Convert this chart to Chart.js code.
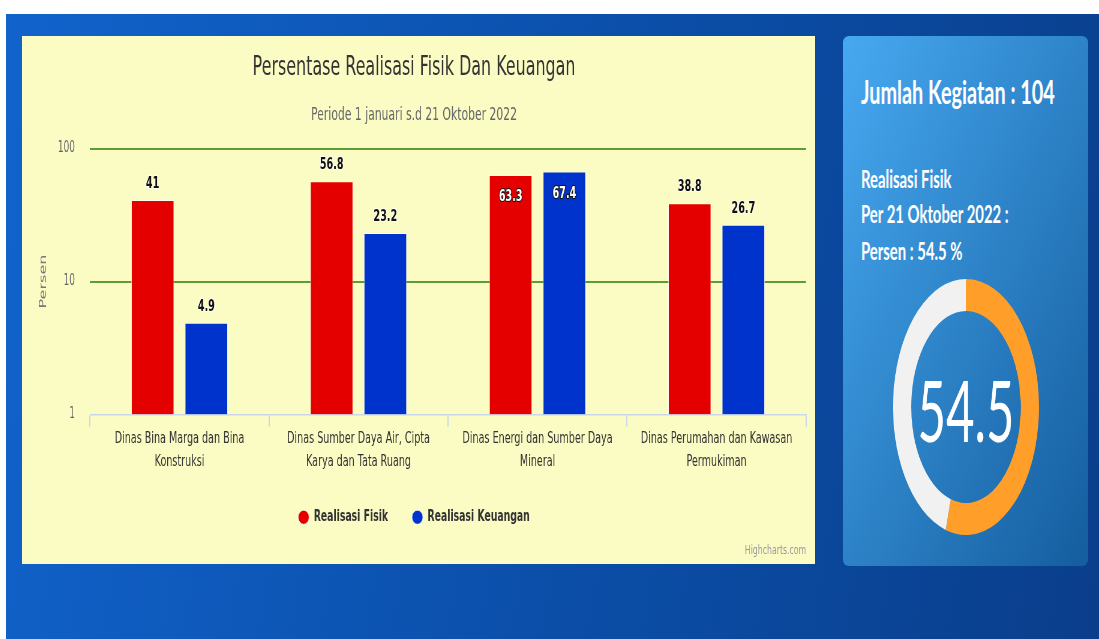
<!DOCTYPE html>
<html>
<head>
<meta charset="utf-8">
<script src="https://cdn.jsdelivr.net/npm/chart.js@4.4.1/dist/chart.umd.min.js"></script>
<style>
  html, body { margin: 0; padding: 0; width: 1099px; height: 639px; overflow: hidden; background: #fff; }
  .bg { position: absolute; left: 6px; top: 14px; right: 0; bottom: 0;
        background: linear-gradient(100deg, #1163cc 0%, #0b4ea8 55%, #0a3e8b 100%); }
  .panel { position: absolute; left: 22px; top: 36px; width: 793px; height: 528px; background: #fbfcc4; overflow: hidden; }
  .squeeze { position: absolute; left: 0; top: 0; transform-origin: 0 0; }
  .panel .squeeze { width: 1322px; height: 528px; transform: scaleX(0.6); }
  .credit { position: absolute; right: 15px; top: 506px; font: 13px 'DejaVu Sans', sans-serif; color: #999; }
  .card { position: absolute; left: 843px; top: 36px; width: 245px; height: 530px; border-radius: 6px;
          background: linear-gradient(to bottom right, #47a9f1, #145d9e); overflow: hidden; }
  .card .squeeze { width: 395px; height: 530px; transform: scaleX(0.62); }
  .line { position: absolute; left: 29px; color: #fff; font-family: Lato, sans-serif; font-weight: 700;
          line-height: 1; white-space: nowrap; }
  .ring { position: absolute; left: 50px; top: 243px; width: 256px; height: 256px;
          transform: scaleX(0.5703); transform-origin: 0 0; }
</style>
</head>
<body>
<div class="bg"></div>

<div class="panel">
  <div class="squeeze">
    <canvas id="barChart"></canvas>
    <span class="credit">Highcharts.com</span>
  </div>
</div>

<div class="card">
  <div class="squeeze">
    <div class="line" id="jumlah" style="top:40px; font-size:32px;"></div>
    <div class="line" style="top:131px; font-size:24px;">Realisasi Fisik</div>
    <div class="line" id="perTanggal" style="top:166px; font-size:24px;"></div>
    <div class="line" id="persen" style="top:203px; font-size:24px;"></div>
  </div>
  <div class="ring"><canvas id="ringChart"></canvas></div>
</div>

<script>
// data
const categories = [
    ["Dinas Bina Marga dan Bina", "Konstruksi"],
    ["Dinas Sumber Daya Air, Cipta", "Karya dan Tata Ruang"],
    ["Dinas Energi dan Sumber Daya", "Mineral"],
    ["Dinas Perumahan dan Kawasan", "Permukiman"]
];
const realisasiFisik = [41, 56.8, 63.3, 38.8];
const realisasiKeuangan = [4.9, 23.2, 67.4, 26.7];
const yTicks = [1, 10, 100];
const seriesNames = ["Realisasi Fisik", "Realisasi Keuangan"];
const jumlahKegiatan = 104;
const tanggal = "21 Oktober 2022";
const persenFisik = 54.5;

document.getElementById('jumlah').textContent = 'Jumlah Kegiatan : ' + jumlahKegiatan;
document.getElementById('perTanggal').textContent = 'Per ' + tanggal + ' :';
document.getElementById('persen').textContent = 'Persen : ' + persenFisik + ' %';

Chart.defaults.font.family = "'DejaVu Sans', sans-serif";

// value labels above the bars (inside when there is no room)
const barValueLabels = {
    id: 'barValueLabels',
    afterDatasetsDraw(chart) {
        const { ctx, chartArea } = chart;
        ctx.save();
        ctx.font = "bold 16px 'DejaVu Sans', sans-serif";
        ctx.textAlign = 'center';
        ctx.textBaseline = 'middle';
        ctx.lineJoin = 'round';
        chart.data.datasets.forEach((ds, i) => {
            chart.getDatasetMeta(i).data.forEach((bar, j) => {
                const txt = String(ds.data[j]);
                const inside = bar.y - 30 < chartArea.top;
                const y = inside ? bar.y + 22 : bar.y - 16;
                ctx.lineWidth = 2;
                ctx.strokeStyle = inside ? '#111' : 'rgba(255,255,255,0.8)';
                ctx.fillStyle = inside ? '#fff' : '#111';
                ctx.strokeText(txt, bar.x, y);
                ctx.fillText(txt, bar.x, y);
            });
        });
        ctx.restore();
    }
};

new Chart(document.getElementById('barChart'), {
    type: 'bar',
    data: {
        labels: categories,
        datasets: [{
            label: seriesNames[0],
            data: realisasiFisik,
            backgroundColor: '#e50000',
            borderColor: 'rgba(255,255,255,0.7)',
            borderWidth: 1,
            categoryPercentage: 0.6,
            barPercentage: 0.8
        }, {
            label: seriesNames[1],
            data: realisasiKeuangan,
            backgroundColor: '#0033cc',
            borderColor: 'rgba(255,255,255,0.7)',
            borderWidth: 1,
            categoryPercentage: 0.6,
            barPercentage: 0.8
        }]
    },
    options: {
        responsive: true,
        maintainAspectRatio: false,
        animation: false,
        layout: { padding: { left: 0, right: 15.3, top: 0, bottom: 29 } },
        scales: {
            x: {
                afterFit: s => { s.height = 55; },
                border: { color: '#ccd6eb', width: 1.5 },
                grid: { offset: true, drawOnChartArea: false, color: '#ccd6eb', lineWidth: 2, tickLength: 12 },
                ticks: { padding: 0.5, color: '#333', font: { size: 16, lineHeight: 1.4375 }, maxRotation: 0, autoSkip: false }
            },
            y: {
                type: 'logarithmic',
                min: 1,
                max: 100,
                afterBuildTicks: s => { s.ticks = yTicks.map(v => ({ value: v })); },
                afterFit: s => { s.width = 113.3; },
                border: { display: false },
                grid: {
                    color: c => (c.tick && c.tick.value === 1) ? 'rgba(0,0,0,0)' : '#5b9d32',
                    lineWidth: 2,
                    drawTicks: false
                },
                ticks: { padding: 25, color: '#666', font: { size: 15 }, callback: v => String(v) },
                title: { display: true, text: 'Persen', color: '#777', font: { size: 16 }, padding: { top: 26, bottom: 0 } }
            }
        },
        plugins: {
            title: {
                display: true,
                text: 'Persentase Realisasi Fisik Dan Keuangan',
                color: '#333',
                font: { size: 26.5, weight: 'normal' },
                padding: { top: 16.4, bottom: 0 }
            },
            subtitle: {
                display: true,
                text: 'Periode 1 januari s.d ' + tanggal,
                color: '#666',
                font: { size: 18, weight: 'normal' },
                padding: { top: 20.6, bottom: 22.2 }
            },
            legend: {
                position: 'bottom',
                labels: {
                    usePointStyle: true,
                    pointStyle: 'circle',
                    pointStyleWidth: 18,
                    boxHeight: 10,
                    padding: 40,
                    color: '#333',
                    font: { size: 15.5, weight: 'bold' }
                }
            },
            tooltip: { enabled: false }
        }
    },
    plugins: [barValueLabels]
});

// doughnut with the number in the middle
const ringCenterText = {
    id: 'ringCenterText',
    afterDraw(chart) {
        const { ctx, chartArea } = chart;
        ctx.save();
        ctx.font = "86px Lato, sans-serif";
        ctx.fillStyle = '#fff';
        ctx.textAlign = 'center';
        ctx.textBaseline = 'alphabetic';
        ctx.fillText(String(persenFisik), (chartArea.left + chartArea.right) / 2, 163);
        ctx.restore();
    }
};

new Chart(document.getElementById('ringChart'), {
    type: 'doughnut',
    data: {
        labels: ['Realisasi', 'Sisa'],
        datasets: [{
            data: [persenFisik, 100 - persenFisik],
            backgroundColor: ['#ff9f29', '#f1f1f1'],
            borderWidth: 0
        }]
    },
    options: {
        responsive: true,
        maintainAspectRatio: false,
        animation: false,
        cutout: '75%',
        plugins: { legend: { display: false }, tooltip: { enabled: false } }
    },
    plugins: [ringCenterText]
});
</script>
</body>
</html>
